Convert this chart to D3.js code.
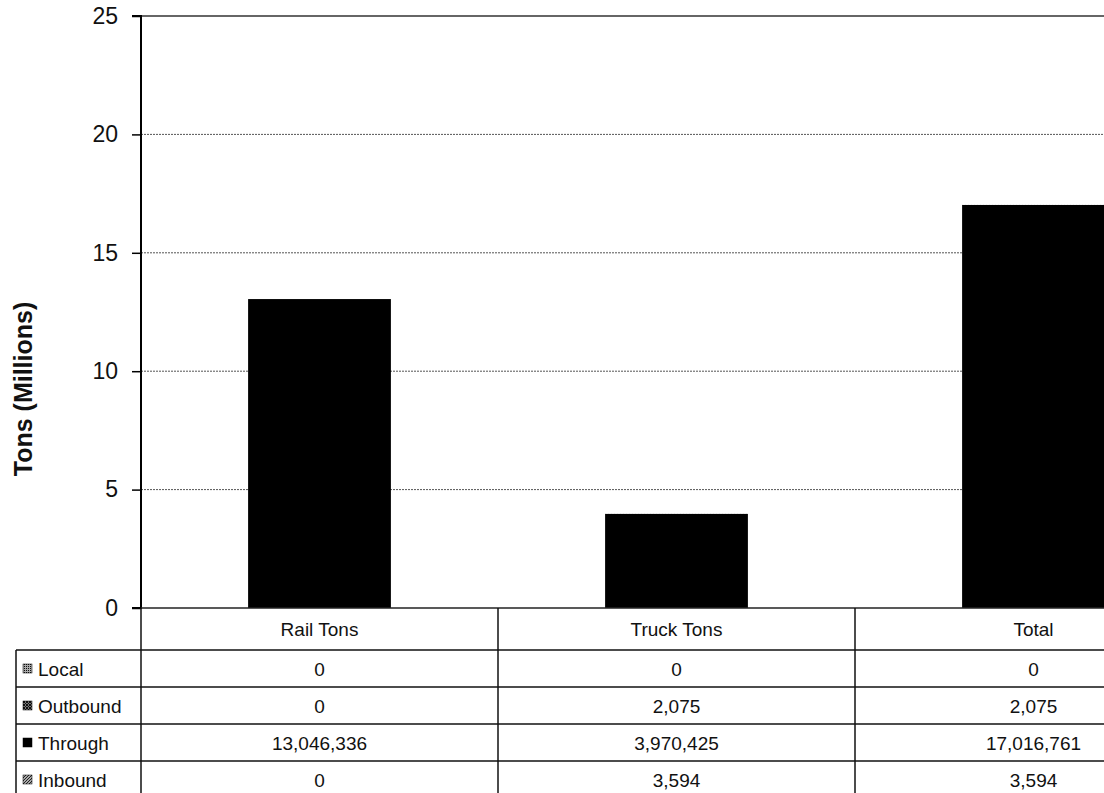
<!DOCTYPE html>
<html>
<head>
<meta charset="utf-8">
<script src="https://cdn.jsdelivr.net/npm/d3@7"></script>
<style>
  body { margin: 0; background: #fff; }
  svg { display: block; font-family: "Liberation Sans", Arial, sans-serif; }
</style>
</head>
<body>
<svg id="chart"></svg>
<script>
// categories and series (tons)
const categories = ["Rail Tons", "Truck Tons", "Total"];
const seriesNames = ["Local", "Outbound", "Through", "Inbound"];
const local = [0, 0, 0];
const outbound = [0, 2075, 2075];
const through = [13046336, 3970425, 17016761];
const inbound = [0, 3594, 3594];
const yTicks = [0, 5, 10, 15, 20, 25];

const width = 1104;
const height = 793;
const svg = d3.select("#chart").attr("width", width).attr("height", height);

// pattern fills for legend keys
const defs = svg.append("defs");
const pLocal = defs.append("pattern").attr("id", "pLocal").attr("width", 2).attr("height", 2).attr("patternUnits", "userSpaceOnUse");
pLocal.append("rect").attr("width", 2).attr("height", 2).attr("fill", "#aaa");
pLocal.append("rect").attr("width", 1).attr("height", 1).attr("fill", "#111");
const pOut = defs.append("pattern").attr("id", "pOut").attr("width", 3).attr("height", 3).attr("patternUnits", "userSpaceOnUse");
pOut.append("rect").attr("width", 3).attr("height", 3).attr("fill", "#777");
pOut.append("path").attr("d", "M0,0L3,3M3,0L0,3").attr("stroke", "#111").attr("stroke-width", 1);
const pIn = defs.append("pattern").attr("id", "pIn").attr("width", 3).attr("height", 3).attr("patternUnits", "userSpaceOnUse");
pIn.append("rect").attr("width", 3).attr("height", 3).attr("fill", "#aaa");
pIn.append("path").attr("d", "M0,3L3,0").attr("stroke", "#222").attr("stroke-width", 1);
const fills = { "Local": "url(#pLocal)", "Outbound": "url(#pOut)", "Through": "#000", "Inbound": "url(#pIn)" };

const plot = { left: 141, top: 16, bottom: 608 };

const yScale = d3.scaleLinear().domain([0, 25]).range([plot.bottom, plot.top]);
const xScale = d3.scaleBand().domain(categories).range([plot.left, plot.left + 3 * 357]).paddingInner(0).paddingOuter(0);

// gridlines
svg.append("g").selectAll("line")
  .data(yTicks.filter(d => d > 0 && d < 25))
  .enter().append("line")
  .attr("x1", plot.left).attr("x2", width)
  .attr("y1", d => yScale(d)).attr("y2", d => yScale(d))
  .attr("stroke", "#555").attr("stroke-width", 1).attr("stroke-dasharray", "2,1");

// top border of plot area
svg.append("line").attr("x1", plot.left).attr("x2", width)
  .attr("y1", yScale(25)).attr("y2", yScale(25))
  .attr("stroke", "#333").attr("stroke-width", 1.5);

// stacked bars
const rows = categories.map((c, i) => ({
  cat: c, Local: local[i] / 1e6, Outbound: outbound[i] / 1e6, Through: through[i] / 1e6, Inbound: inbound[i] / 1e6
}));
const stacked = d3.stack().keys(seriesNames)(rows);
const bw = xScale.bandwidth() * 0.4;
svg.append("g").selectAll("g")
  .data(stacked)
  .enter().append("g")
  .attr("fill", d => fills[d.key])
  .selectAll("rect")
  .data(d => d)
  .enter().append("rect")
  .attr("x", d => xScale(d.data.cat) + (xScale.bandwidth() - bw) / 2)
  .attr("y", d => yScale(d[1]))
  .attr("width", bw)
  .attr("height", d => yScale(d[0]) - yScale(d[1]));

// y axis
const yAxis = d3.axisLeft(yScale).tickValues(yTicks).tickSize(9).tickPadding(14).tickFormat(d3.format("d"));
const gay = svg.append("g").attr("transform", `translate(${plot.left},0)`).call(yAxis);
gay.select(".domain").attr("stroke", "#000").attr("stroke-width", 2).attr("d", `M-9,${plot.top}H0V${plot.bottom}H-9`);
gay.selectAll(".tick line").attr("stroke", "#000").attr("stroke-width", 1.5);
gay.selectAll(".tick text").attr("font-size", 23).attr("fill", "#111").attr("font-family", "Liberation Sans, Arial, sans-serif");

// x baseline
svg.append("line").attr("x1", plot.left).attr("x2", width)
  .attr("y1", plot.bottom).attr("y2", plot.bottom)
  .attr("stroke", "#222").attr("stroke-width", 1.5);

// y title
svg.append("text")
  .attr("transform", `translate(32,389) rotate(-90)`)
  .attr("text-anchor", "middle")
  .attr("font-size", 25).attr("font-weight", "bold").attr("fill", "#111")
  .text("Tons (Millions)");

// data table
const tableLeft = 16;
const headerTop = plot.bottom;
const headerH = 42;
const rowH = 37;
const tbl = svg.append("g").attr("stroke", "#111").attr("stroke-width", 1.5);
const rowTop = i => headerTop + headerH + i * rowH;

// horizontal lines
tbl.append("line").attr("x1", tableLeft).attr("x2", width).attr("y1", rowTop(0)).attr("y2", rowTop(0));
seriesNames.forEach((s, i) => {
  tbl.append("line").attr("x1", tableLeft).attr("x2", width).attr("y1", rowTop(i + 1)).attr("y2", rowTop(i + 1));
});
// vertical lines
tbl.append("line").attr("x1", tableLeft).attr("x2", tableLeft).attr("y1", rowTop(0)).attr("y2", height);
categories.forEach(c => {
  const x = xScale(c);
  tbl.append("line").attr("x1", x).attr("x2", x).attr("y1", headerTop).attr("y2", height);
});
const lastX = xScale(categories[categories.length - 1]) + xScale.bandwidth();
if (lastX < width) tbl.append("line").attr("x1", lastX).attr("x2", lastX).attr("y1", headerTop).attr("y2", height);

// header labels
svg.append("g").selectAll("text")
  .data(categories)
  .enter().append("text")
  .attr("x", d => xScale(d) + xScale.bandwidth() / 2)
  .attr("y", headerTop + headerH / 2 + 7)
  .attr("text-anchor", "middle").attr("font-size", 19).attr("fill", "#111")
  .text(d => d);

// series rows
const fmt = d3.format(",");
const values = { "Local": local, "Outbound": outbound, "Through": through, "Inbound": inbound };
seriesNames.forEach((s, i) => {
  const cy = rowTop(i) + rowH / 2;
  svg.append("rect").attr("x", tableLeft + 7).attr("y", cy - 4.5).attr("width", 9).attr("height", 9)
    .attr("fill", fills[s]).attr("stroke", "#000").attr("stroke-width", 0.5);
  svg.append("text").attr("x", tableLeft + 22).attr("y", cy + 7)
    .attr("font-size", 19).attr("fill", "#111").text(s);
  svg.append("g").selectAll("text")
    .data(values[s])
    .enter().append("text")
    .attr("x", (d, j) => xScale(categories[j]) + xScale.bandwidth() / 2)
    .attr("y", cy + 7)
    .attr("text-anchor", "middle").attr("font-size", 19).attr("fill", "#111")
    .text(d => fmt(d));
});
</script>
</body>
</html>
